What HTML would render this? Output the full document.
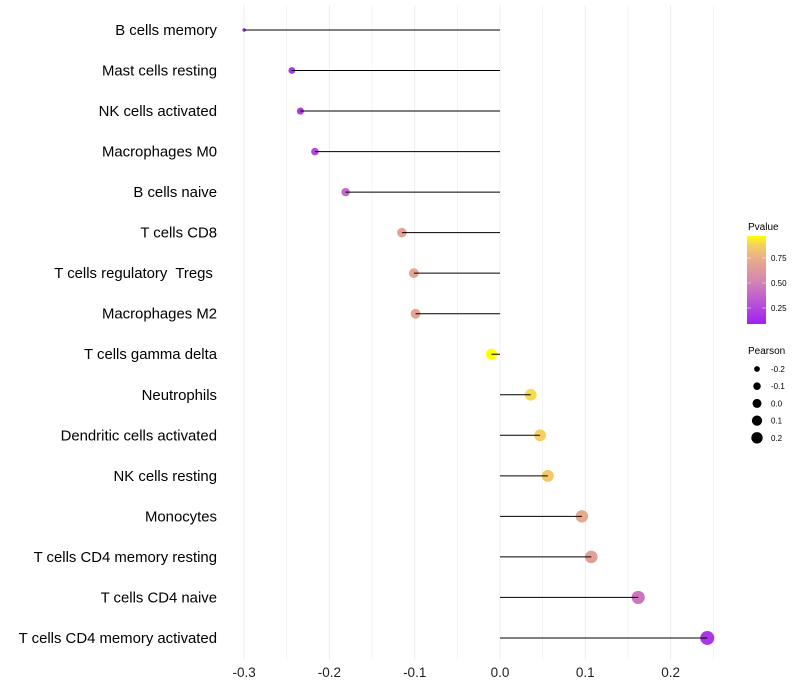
<!DOCTYPE html>
<html><head><meta charset="utf-8"><style>
body{margin:0;background:#fff;font-family:"Liberation Sans",sans-serif}
svg{display:block}
</style></head><body>
<svg id="chart" width="800" height="700" xmlns="http://www.w3.org/2000/svg">
<defs><linearGradient id="pg" x1="0" y1="1" x2="0" y2="0">
<stop offset="0" stop-color="#A020F0"/><stop offset="0.25" stop-color="#BB55D8"/><stop offset="0.5" stop-color="#D488B0"/><stop offset="0.75" stop-color="#EBAE86"/><stop offset="0.9" stop-color="#F6D060"/><stop offset="1" stop-color="#FFFF00"/></linearGradient></defs>
<g id="grid"></g><g id="marks"></g><g id="labels"></g>
<g>
<text x="748" y="230" font-size="10" fill="#000">Pvalue</text>
<rect x="747" y="236" width="19" height="88" fill="url(#pg)"/>
<g stroke="#fff" stroke-width="0.8" opacity="0.6"><line x1="747" x2="751" y1="258" y2="258"/><line x1="762" x2="766" y1="258" y2="258"/><line x1="747" x2="751" y1="283" y2="283"/><line x1="762" x2="766" y1="283" y2="283"/><line x1="747" x2="751" y1="308" y2="308"/><line x1="762" x2="766" y1="308" y2="308"/></g>
<g font-size="8" fill="#000"><text x="771" y="261">0.75</text><text x="771" y="286">0.50</text><text x="771" y="311">0.25</text></g>
</g>
<g id="sizeleg">
<text x="748" y="354" font-size="10" fill="#000">Pearson</text>
</g>
</svg>
<script>
const categories=["B cells memory","Mast cells resting","NK cells activated","Macrophages M0","B cells naive","T cells CD8","T cells regulatory  Tregs ","Macrophages M2","T cells gamma delta","Neutrophils","Dendritic cells activated","NK cells resting","Monocytes","T cells CD4 memory resting","T cells CD4 naive","T cells CD4 memory activated"];
const pearson=[-0.300,-0.244,-0.234,-0.217,-0.181,-0.115,-0.101,-0.099,-0.010,0.036,0.047,0.056,0.096,0.107,0.162,0.243];
const pvalues=[0.10,0.17,0.20,0.25,0.40,0.68,0.70,0.70,0.99,0.90,0.88,0.85,0.72,0.66,0.45,0.18];
const xTicks=[-0.3,-0.2,-0.1,0.0,0.1,0.2];
const sizeBreaks=[-0.2,-0.1,0.0,0.1,0.2];
const NS="http://www.w3.org/2000/svg";
const X0=500,XS=853;
const x=v=>X0+v*XS;
const y=i=>30+i*40.53;
const r=v=>1.7+5.3*Math.sqrt(Math.max(0,(v+0.3)/0.543));
const rl=v=>Math.sqrt(Math.max(1,2.25+60*(v+0.3)));
const stops=[[0,[160,32,240]],[0.25,[187,85,216]],[0.5,[212,136,176]],[0.75,[235,174,134]],[0.9,[246,208,96]],[1,[255,255,0]]];
function col(p){const t=Math.min(1,Math.max(0,(p-0.09)/0.88));for(let k=1;k<stops.length;k++){if(t<=stops[k][0]){const a=stops[k-1],b=stops[k],f=(t-a[0])/(b[0]-a[0]);return "rgb("+a[1].map((c,j)=>Math.round(c+(b[1][j]-c)*f)).join(",")+")";}}return "rgb(255,255,0)";}
function mk(tag,at,parent){const e=document.createElementNS(NS,tag);for(const k in at)e.setAttribute(k,at[k]);parent.appendChild(e);return e;}
const grid=document.getElementById('grid'),marks=document.getElementById('marks'),labels=document.getElementById('labels');
for(let v=-0.3;v<=0.2501;v+=0.05){const g=mk('line',{x1:x(v),x2:x(v),y1:5,y2:660,stroke:'#ebebeb','stroke-width':Math.abs(Math.round(v*20)%2)===0?0.9:0.5},grid);

}
xTicks.forEach(v=>{const t=mk('text',{x:x(v),y:677,'font-size':13.5,'text-anchor':'middle',fill:'#222'},labels);t.textContent=v.toFixed(1);

});
categories.forEach((c,i)=>{
const t=mk('text',{x:217,y:y(i)+5,'font-size':14.9,'text-anchor':'end',fill:'#000',style:'white-space:pre'},labels);t.textContent=c;


const d=mk('circle',{cx:x(pearson[i]),cy:y(i),r:r(pearson[i]),fill:col(pvalues[i])},marks);


const l=mk('line',{x1:x(0),x2:x(pearson[i]),y1:y(i),y2:y(i),stroke:'#000','stroke-width':1},marks);


});
const sl=document.getElementById('sizeleg');
sizeBreaks.forEach((v,k)=>{const cy=369+k*17.2;
const c=mk('circle',{cx:757,cy:cy,r:rl(v),fill:'#000'},sl);


const t=mk('text',{x:771,y:cy+3,'font-size':8,fill:'#000'},sl);t.textContent=v.toFixed(1);

});
</script>
</body></html>
